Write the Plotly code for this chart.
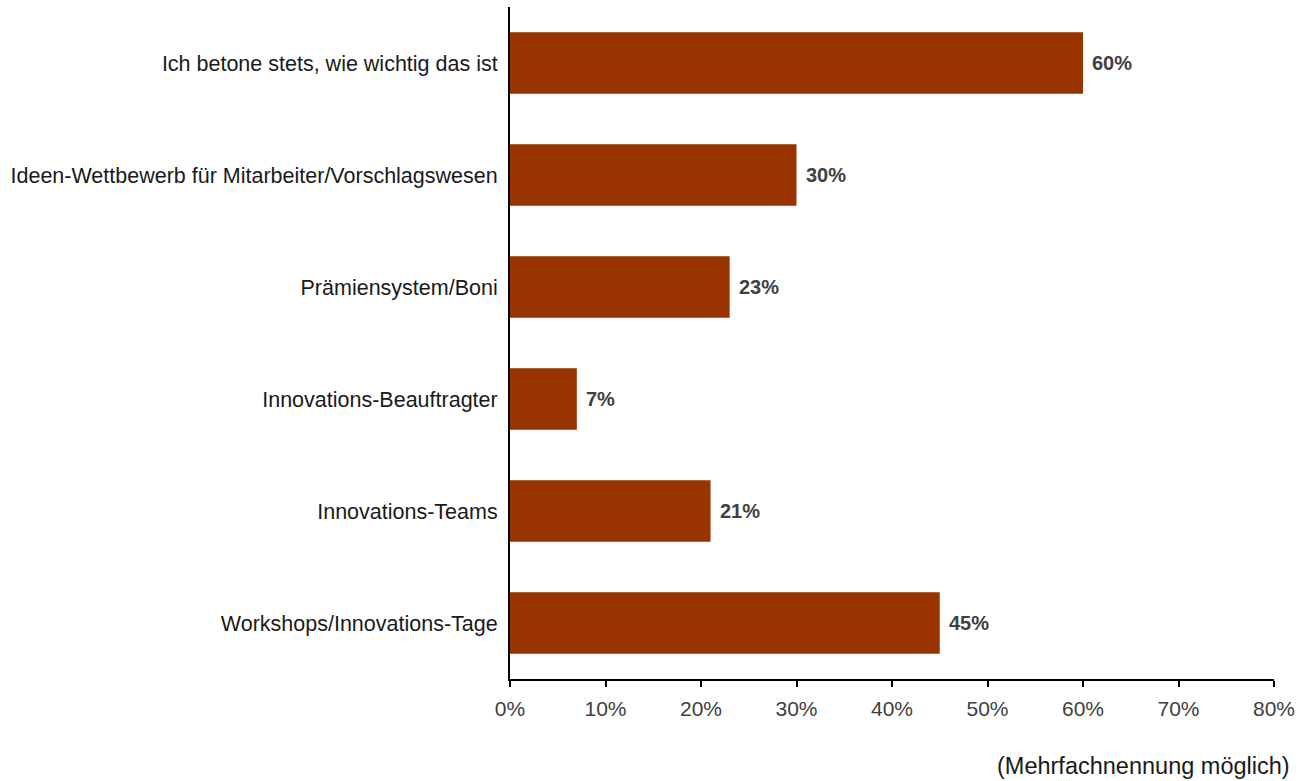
import plotly.graph_objects as go

categories = [
    "Ich betone stets, wie wichtig das ist",
    "Ideen-Wettbewerb für Mitarbeiter/Vorschlagswesen",
    "Prämiensystem/Boni",
    "Innovations-Beauftragter",
    "Innovations-Teams",
    "Workshops/Innovations-Tage",
]
shares = [0.60, 0.30, 0.23, 0.07, 0.21, 0.45]
tick_vals = [0, 0.1, 0.2, 0.3, 0.4, 0.5, 0.6, 0.7, 0.8]
tick_text = ["0%", "10%", "20%", "30%", "40%", "50%", "60%", "70%", "80%"]

FONT = "Liberation Sans, Arial, sans-serif"

fig = go.Figure(
    go.Bar(
        x=shares,
        y=categories,
        orientation="h",
        marker=dict(color="#993300", line=dict(width=0)),
        width=0.55,
        hoverinfo="skip",
    )
)

# value labels to the right of each bar
value_labels = [
    dict(
        x=v,
        y=c,
        xref="x",
        yref="y",
        text=f"<b>{round(v * 100)}%</b>",
        showarrow=False,
        xanchor="left",
        yanchor="middle",
        xshift=7,
        font=dict(family=FONT, size=20, color="#404040"),
    )
    for v, c in zip(shares, categories)
]

fig.update_layout(
    width=1300,
    height=781,
    margin=dict(l=510, r=26, t=7, b=102),
    plot_bgcolor="white",
    paper_bgcolor="white",
    showlegend=False,
    font=dict(family=FONT),
    xaxis=dict(
        range=[0, 0.8],
        tickvals=tick_vals,
        ticktext=tick_text,
        showgrid=False,
        zeroline=False,
        showline=True,
        linecolor="black",
        linewidth=2,
        ticks="outside",
        ticklen=6,
        tickwidth=2,
        tickcolor="black",
        tickfont=dict(size=21, color="#404040"),
        ticklabelstandoff=4,
        automargin=False,
    ),
    yaxis=dict(
        autorange="reversed",
        showgrid=False,
        zeroline=False,
        showline=True,
        linecolor="black",
        linewidth=2,
        ticks="",
        tickfont=dict(size=21.5, color="#1a1a1a"),
        ticklabelstandoff=6,
        automargin=False,
    ),
    annotations=value_labels
    + [
        dict(
            text="(Mehrfachnennung möglich)",
            xref="paper",
            yref="paper",
            x=1.0236,
            y=-0.1295,
            xanchor="right",
            yanchor="middle",
            showarrow=False,
            font=dict(family=FONT, size=23.5, color="#1a1a1a"),
        )
    ],
)

fig.write_html("out.html")
